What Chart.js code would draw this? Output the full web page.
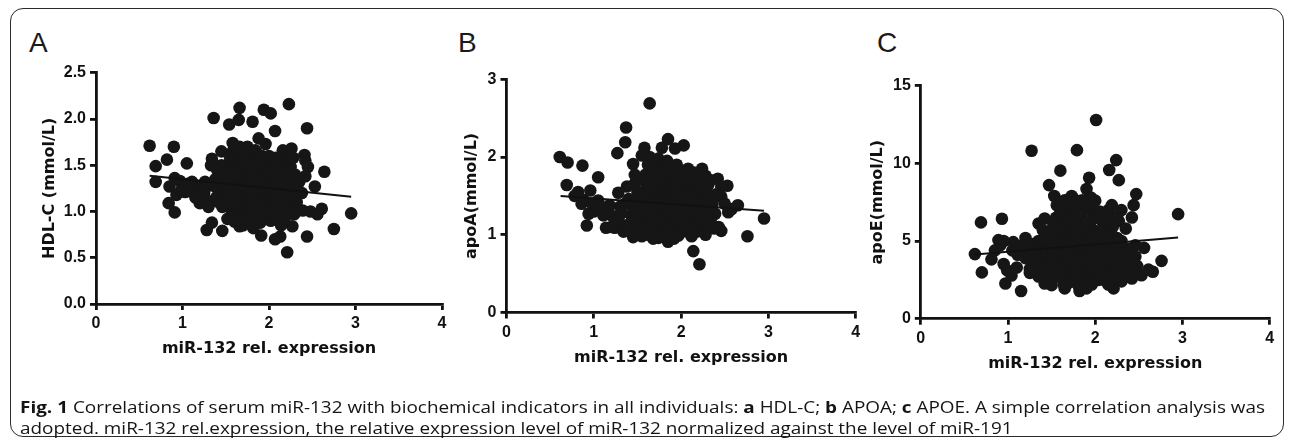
<!DOCTYPE html>
<html>
<head>
<meta charset="utf-8">
<script src="https://cdn.jsdelivr.net/npm/chart.js@4.4.0/dist/chart.umd.min.js"></script>
<style>
  html, body { margin: 0; padding: 0; background: #fff; }
  #page { position: relative; width: 1290px; height: 442px; overflow: hidden; background: #fff; }
  .frame { position: absolute; left: 10px; top: 8px; width: 1274px; height: 429px; border: 1.6px solid #2b2b2b; border-radius: 13px; box-sizing: border-box; }
  .layer { position: absolute; left: 0; top: 0; width: 1290px; height: 442px; }
  .letter { position: absolute; font-family: "Liberation Sans", Arial, sans-serif; font-size: 28px; line-height: 28px; color: #1a1a1a; }
  .cap { position: absolute; left: 20px; font-family: "Open Sans", sans-serif; font-size: 16.5px; line-height: 20px; color: #141414; white-space: nowrap; transform-origin: 0 0; }
  .cap b { font-weight: 700; }
</style>
</head>
<body>
<div id="page">
  <div class="frame"></div>
  <div class="letter" style="left:29px; top:29px;">A</div>
  <div class="letter" style="left:458px; top:29px;">B</div>
  <div class="letter" style="left:877px; top:29px;">C</div>
  <div class="layer"><canvas id="chartA"></canvas></div>
  <div class="layer"><canvas id="chartB"></canvas></div>
  <div class="layer"><canvas id="chartC"></canvas></div>
  <div class="cap" id="cap1" style="top:397px;"><b>Fig. 1</b> Correlations of serum miR-132 with biochemical indicators in all individuals: <b>a</b> HDL-C; <b>b</b> APOA; <b>c</b> APOE. A simple correlation analysis was</div>
  <div class="cap" id="cap2" style="top:418px;">adopted. miR-132 rel.expression, the relative expression level of miR-132 normalized against the level of miR-191</div>
</div>
<script>
var xTitle = 'miR-132 rel. expression';
var xTicks = [0, 1, 2, 3, 4];

// painel A: HDL-C
var hdlPoints = [
  [0.62,1.71],[0.90,1.70],[0.82,1.56],[0.69,1.49],[1.05,1.52],[0.69,1.32],[1.36,2.01],[1.66,2.12],[1.65,1.99],[1.54,1.94],
  [1.81,1.97],[1.94,2.10],[2.02,2.06],[2.23,2.16],[2.07,1.87],[2.44,1.90],[1.88,1.79],[1.96,1.73],[1.58,1.74],[2.26,1.68],
  [2.41,1.61],[2.42,1.55],[2.45,1.48],[2.19,1.56],[2.64,1.43],[2.53,1.27],[2.95,0.98],[2.75,0.81],[2.61,1.03],[2.56,0.97],
  [2.48,1.00],[2.39,1.01],[2.29,0.97],[2.44,0.73],[2.21,0.56],[2.27,0.84],[2.13,0.73],[2.07,0.70],[1.91,0.74],[1.46,0.79],
  [1.28,0.80],[1.34,0.88],[0.91,0.99],[0.84,1.09],[0.85,1.27],[0.93,1.18],[1.03,1.21],[1.14,1.21],[1.11,1.32],[0.91,1.36],
  [1.20,1.09],[1.30,1.11],[1.26,1.32],[1.34,1.57],[1.33,1.50],[1.45,1.65],[1.43,1.40],[1.49,1.18],[1.39,1.15],[1.57,1.00],
  [1.60,0.89],[1.66,0.84],[1.76,1.65],[1.86,1.63],[1.72,1.58],[1.99,1.50],[2.11,1.43],[2.20,1.38],[2.30,1.40],[2.35,1.32],
  [2.26,1.27],[2.33,1.21],[2.22,1.14],[2.14,1.09],[2.20,1.03],[2.07,0.96],[1.99,0.93],[2.14,0.85],[1.84,0.89],[1.72,0.96],
  [1.95,1.07],[1.80,1.18],[1.68,1.32],[1.60,1.43],[1.53,1.28],[1.87,1.36],[2.03,1.28],[1.76,1.43],[1.91,1.21],[1.64,1.11],
  [1.84,1.03],[1.78,1.11],[1.62,1.55],[1.70,1.50],[1.78,1.52],[1.85,1.48],[1.92,1.42],[2.00,1.38],[2.06,1.34],[1.65,1.25],
  [1.72,1.22],[1.80,1.28],[1.88,1.25],[1.95,1.30],[2.02,1.18],[2.10,1.20],[2.16,1.26],[1.58,1.18],[1.66,1.05],[1.74,1.08],
  [1.82,1.12],[1.90,1.14],[1.98,1.12],[2.05,1.06],[1.62,0.98],[1.70,0.92],[1.78,0.98],[1.86,0.95],[1.94,0.98],[2.02,0.90],
  [1.52,1.50],[1.48,1.35],[1.56,1.38],[1.64,1.40],[1.72,1.36],[1.80,1.40],[1.88,1.46],[1.96,1.55],[2.04,1.48],[2.12,1.52],
  [2.18,1.45],[2.25,1.48],[2.28,1.58],[2.32,1.10],[2.24,1.00],[1.75,1.70],[1.82,1.58],[1.68,1.62],[1.55,1.58],[1.45,1.50],
  [1.40,1.25],[1.46,1.05],[1.52,0.92],[1.50,1.10],[1.35,1.28],[1.20,1.25],[1.00,1.28],[0.97,1.33],[1.08,1.22],[1.15,1.15],
  [1.25,1.20],[1.30,1.05],[1.58,1.30],[1.76,1.20],[1.84,1.30],[1.92,1.35],[1.70,1.15],[2.00,1.22],[2.08,1.12],[1.62,1.22],
  [1.74,1.00],[1.90,0.88],[1.98,1.00],[2.10,1.00],[1.82,0.82],[1.70,0.85],[2.28,1.30],[2.38,1.20],[2.42,1.38],[2.18,0.92],
  [1.58,0.95],[1.60,1.48],[1.66,1.46],[1.74,1.56],[1.80,1.46],[1.86,1.55],[1.94,1.48],[2.02,1.42],[2.08,1.46],[2.14,1.38],
  [1.56,1.30],[1.62,1.34],[1.70,1.28],[1.76,1.32],[1.82,1.36],[1.90,1.30],[1.98,1.26],[2.06,1.24],[2.12,1.30],[2.18,1.20],
  [1.56,1.12],[1.62,1.16],[1.68,1.10],[1.76,1.14],[1.84,1.20],[1.92,1.08],[2.00,1.06],[2.08,1.06],[2.16,1.14],[1.64,1.02],
  [1.72,1.04],[1.80,1.05],[1.88,1.02],[1.96,0.94],[2.04,1.00],[1.68,0.90],[1.76,0.92],[1.84,0.96],[1.92,0.92],[1.50,1.42],
  [1.54,1.20],[1.46,1.28],[1.60,1.08],[1.58,1.65],[1.66,1.70],[1.84,1.66],[1.92,1.60],[2.00,1.60],[2.08,1.58],[2.16,1.66],
  [2.22,1.30],[2.26,1.18],[2.30,1.05],[1.40,1.45],[1.38,1.35],[1.42,1.10],[1.26,1.14],[1.16,1.28],[1.06,1.30],[0.98,1.22],
  [1.22,1.28]
];
var hdlFit = [[0.62,1.385],[2.95,1.16]];
var hdlTicks = [0, 0.5, 1.0, 1.5, 2.0, 2.5];

// painel B: apoA
var apoaPoints = [
  [1.64,2.69],[1.37,2.38],[1.36,2.19],[1.27,2.05],[1.85,2.23],[1.78,2.12],[1.93,2.11],[2.03,2.15],[1.58,2.12],[0.61,2.00],
  [0.70,1.93],[0.87,1.89],[1.05,1.74],[0.69,1.64],[0.82,1.55],[0.96,1.57],[0.86,1.40],[1.05,1.44],[1.11,1.25],[0.92,1.12],
  [0.94,1.27],[1.14,1.09],[1.28,1.54],[1.30,1.36],[1.24,1.09],[1.34,1.04],[1.45,0.97],[1.47,1.66],[1.45,1.91],[1.47,1.77],
  [1.55,2.02],[1.64,2.00],[1.74,1.98],[1.82,1.87],[1.97,1.83],[2.08,1.85],[2.24,1.85],[2.42,1.72],[2.53,1.63],[2.46,1.49],
  [2.27,1.57],[2.31,1.43],[2.65,1.38],[2.58,1.33],[2.54,1.29],[2.95,1.21],[2.76,0.98],[2.14,0.79],[2.21,0.62],[1.85,0.91],
  [1.74,0.96],[1.97,0.99],[2.43,1.10],[2.39,1.27],[2.29,1.08],[2.18,1.04],[2.07,1.04],[1.59,1.00],[1.66,1.16],[1.55,1.33],
  [1.63,1.50],[1.78,1.55],[1.89,1.67],[2.00,1.59],[2.12,1.50],[2.20,1.33],[2.08,1.25],[1.97,1.16],[1.85,1.25],[1.74,1.33],
  [1.70,1.67],[1.59,1.77],[1.93,1.42],[2.05,1.38],[1.82,1.08],[1.51,1.16],[1.43,1.25],[1.40,1.46],[2.24,1.20],[2.31,1.64],
  [2.12,1.72],[2.00,1.77],[1.70,1.80],[1.66,1.38],[1.85,1.46],[2.27,1.29],[1.20,1.10],[1.36,1.12],[1.60,1.60],[1.68,1.55],
  [1.76,1.45],[1.84,1.38],[1.92,1.30],[2.00,1.22],[2.08,1.15],[1.62,1.25],[1.70,1.20],[1.78,1.28],[1.86,1.18],[1.94,1.10],
  [2.02,1.30],[2.10,1.40],[2.16,1.60],[1.52,1.42],[1.58,1.08],[1.66,1.08],[1.74,1.12],[1.82,1.00],[1.90,1.05],[1.98,1.45],
  [2.06,1.52],[2.14,1.28],[2.22,1.45],[1.62,1.90],[1.70,1.88],[1.80,1.72],[1.88,1.78],[1.96,1.65],[2.04,1.70],[2.12,1.62],
  [2.20,1.70],[1.50,1.55],[1.45,1.35],[1.48,1.10],[1.56,1.22],[1.64,1.45],[1.72,1.40],[1.80,1.62],[1.88,1.55],[1.96,1.52],
  [2.04,1.45],[2.12,1.18],[2.20,1.10],[2.26,1.36],[2.36,1.40],[2.40,1.52],[2.46,1.62],[2.34,1.70],[1.38,1.62],[1.32,1.28],
  [1.25,1.20],[1.18,1.38],[1.00,1.30],[0.88,1.45],[0.78,1.50],[1.40,1.05],[1.55,0.98],[1.68,0.95],[1.78,1.05],[1.92,0.95],
  [2.00,1.05],[2.12,0.98],[2.28,1.00],[2.50,1.40],[2.46,1.05],[1.58,1.70],[1.84,1.95],[1.95,1.90],[2.15,1.80],[2.28,1.76],
  [1.54,1.50],[1.60,1.40],[1.66,1.30],[1.72,1.50],[1.78,1.40],[1.84,1.30],[1.90,1.45],[1.96,1.35],[2.02,1.20],[2.08,1.32],
  [2.14,1.45],[2.20,1.22],[1.56,1.18],[1.62,1.12],[1.68,1.22],[1.74,1.22],[1.80,1.15],[1.86,1.08],[1.92,1.18],[1.98,1.25],
  [2.04,1.12],[2.10,1.08],[2.16,1.15],[1.60,1.02],[1.70,1.05],[1.76,0.98],[1.86,0.98],[1.96,1.02],[2.06,1.10],[1.64,1.62],
  [1.72,1.62],[1.78,1.70],[1.86,1.65],[1.92,1.58],[2.00,1.52],[2.06,1.62],[2.12,1.55],[2.18,1.52],[2.24,1.58],[1.66,1.75],
  [1.76,1.80],[1.84,1.82],[1.92,1.72],[2.02,1.80],[2.10,1.68],[1.58,1.35],[1.50,1.28],[1.46,1.20],[1.42,1.15],[1.52,1.05],
  [2.28,1.15],[2.34,1.20],[2.38,1.08],[2.32,1.50],[2.26,1.25],[1.36,1.40],[1.28,1.20],[1.20,1.25],[1.10,1.35],[0.98,1.40]
];
var apoaFit = [[0.62,1.50],[2.95,1.31]];
var apoaTicks = [0, 1, 2, 3];

// painel C: apoE
var apoePoints = [
  [2.01,12.79],[1.27,10.81],[1.79,10.85],[2.24,10.21],[2.16,9.57],[2.27,8.92],[1.60,9.53],[1.93,9.07],[1.47,8.60],[1.90,8.35],
  [2.47,8.02],[1.53,7.90],[1.73,7.90],[2.44,7.31],[2.95,6.73],[2.42,6.52],[0.69,6.20],[0.93,6.43],[2.27,6.28],[0.62,4.16],
  [0.81,3.82],[0.70,2.98],[0.97,2.27],[1.15,1.78],[0.89,5.06],[0.91,4.73],[1.06,4.93],[1.20,5.20],[1.28,4.80],[1.11,4.12],
  [0.95,3.52],[1.04,2.78],[0.99,3.12],[1.33,3.45],[1.25,2.95],[1.35,2.72],[1.42,2.27],[1.50,2.16],[1.65,1.95],[1.82,1.78],
  [1.90,1.95],[2.21,1.95],[2.11,2.48],[2.30,2.80],[2.42,2.59],[2.53,2.80],[2.61,3.16],[2.66,3.02],[2.76,3.72],[2.56,4.56],
  [2.46,4.73],[2.42,4.00],[2.27,4.67],[2.19,4.00],[1.35,6.13],[1.42,6.45],[1.62,6.99],[1.65,7.63],[1.77,7.20],[1.85,7.63],
  [1.96,6.99],[2.07,6.35],[2.15,6.99],[2.19,7.31],[2.30,6.99],[1.50,5.70],[1.65,6.13],[1.85,6.35],[1.98,5.70],[2.15,5.49],
  [1.50,4.85],[1.62,4.42],[1.77,4.85],[1.92,4.42],[2.04,5.06],[2.11,4.00],[1.42,4.20],[1.58,3.56],[1.73,3.35],[1.88,3.77],
  [2.04,3.35],[2.19,3.35],[1.96,2.92],[1.77,2.72],[1.62,2.72],[1.69,2.30],[2.04,2.50],[1.81,5.28],[1.65,4.00],[1.85,4.00],
  [2.34,3.56],[2.46,4.00],[1.39,4.00],[1.27,4.42],[1.55,6.50],[1.62,6.20],[1.70,6.60],[1.78,6.00],[1.86,5.80],[1.94,6.20],
  [2.02,6.50],[2.10,6.00],[2.20,5.90],[2.25,5.20],[1.58,5.30],[1.66,5.60],[1.74,5.50],[1.82,5.00],[1.90,5.40],[1.98,4.80],
  [2.06,4.60],[2.14,4.80],[1.56,4.80],[1.64,4.60],[1.72,4.20],[1.80,4.50],[1.88,4.20],[1.96,4.10],[2.04,3.90],[2.12,3.60],
  [2.22,3.20],[1.62,3.80],[1.70,3.60],[1.78,3.90],[1.86,3.40],[1.94,3.60],[2.02,3.10],[2.10,3.00],[2.28,3.00],[1.60,3.20],
  [1.68,3.00],[1.76,3.20],[1.84,3.00],[1.92,3.20],[2.00,2.80],[2.08,2.70],[1.50,3.80],[1.45,5.30],[1.40,5.70],[1.35,5.00],
  [1.30,3.80],[1.45,3.00],[1.52,2.60],[1.72,2.50],[1.86,2.40],[1.96,2.20],[2.15,2.20],[2.35,3.00],[2.38,4.50],[2.30,5.00],
  [2.25,6.60],[2.35,5.80],[1.65,7.00],[1.70,7.40],[1.88,7.00],[2.00,7.60],[2.05,6.90],[1.95,7.80],[1.82,6.80],[1.60,6.80],
  [1.15,4.70],[1.05,4.40],[0.95,5.00],[0.85,4.40],[1.20,3.90],[1.10,3.30],[2.48,3.40],[2.40,2.70],[1.58,5.90],[1.66,5.20],
  [1.72,5.90],[1.80,5.60],[1.88,5.00],[1.96,5.30],[2.04,5.60],[2.12,5.30],[2.20,5.00],[1.60,4.40],[1.68,4.90],[1.76,4.60],
  [1.84,4.70],[1.92,4.80],[2.00,4.40],[2.08,4.20],[2.16,4.30],[2.24,4.40],[1.62,3.40],[1.70,4.00],[1.78,3.60],[1.86,3.80],
  [1.94,3.90],[2.02,3.60],[2.10,3.40],[2.18,3.80],[2.26,3.60],[1.58,2.90],[1.66,2.60],[1.74,2.90],[1.82,2.60],[1.90,2.70],
  [1.98,3.00],[2.06,2.90],[2.14,2.70],[1.64,2.20],[1.80,2.20],[1.92,2.40],[1.52,4.20],[1.48,3.40],[1.54,5.00],[1.44,4.60],
  [1.38,4.40],[1.40,3.40],[1.36,2.90],[1.56,7.30],[1.62,7.50],[1.78,7.60],[1.90,7.30],[1.98,6.60],[2.10,6.60],[2.18,6.20],
  [1.74,6.30],[1.66,6.40],[1.52,6.10],[2.32,4.20],[2.36,3.60],[2.44,3.10],[2.30,2.40],[2.22,2.60],[1.25,3.20],[1.20,4.40],
  [1.30,4.20]
];
var apoeFit = [[0.62,4.13],[2.95,5.22]];
var apoeTicks = [0, 5, 10, 15];

var ink = '#111111';
var tickFont = { family: 'Liberation Sans', weight: 'bold', size: 16 };
var titleFont = { family: 'DejaVu Sans', weight: 'bold', size: 16 };

function toXY(list) {
    return list.map(function(p) { return { x: p[0], y: p[1] }; });
}

function desenharPainel(id, pontos, reta, yTicks, yTitle, decimais, box) {
    var padLeft = box.titleX - 9.6;
    var xHeight = 54.5;
    new Chart(document.getElementById(id), {
        type: 'scatter',
        data: {
            datasets: [{
                data: toXY(reta),
                showLine: true,
                borderColor: ink,
                borderWidth: 2,
                pointRadius: 0
            }, {
                data: toXY(pontos),
                backgroundColor: '#161616',
                pointRadius: 6.3,
                pointBorderWidth: 0
            }]
        },
        options: {
            responsive: true,
            maintainAspectRatio: false,
            animation: false,
            events: [],
            layout: {
                padding: { left: padLeft, top: box.top, right: 1290 - box.right, bottom: 442 - box.bottom - xHeight }
            },
            plugins: { legend: { display: false }, tooltip: { enabled: false } },
            scales: {
                x: {
                    type: 'linear',
                    min: xTicks[0],
                    max: xTicks[xTicks.length - 1],
                    afterBuildTicks: function(s) { s.ticks = xTicks.map(function(v) { return { value: v }; }); },
                    ticks: { font: tickFont, color: ink, padding: 4, maxRotation: 0 },
                    grid: { drawOnChartArea: false, drawTicks: true, tickLength: 6, lineWidth: 2.8, color: ink },
                    border: { display: true, width: 2.8, color: ink },
                    title: { display: true, text: xTitle, font: titleFont, color: ink, padding: { top: 0, bottom: 0 } },
                    afterFit: function(s) { s.height = xHeight; }
                },
                y: {
                    type: 'linear',
                    min: yTicks[0],
                    max: yTicks[yTicks.length - 1],
                    afterBuildTicks: function(s) { s.ticks = yTicks.map(function(v) { return { value: v }; }); },
                    ticks: {
                        font: tickFont, color: ink, padding: 4,
                        callback: function(v) { return Number(v).toFixed(decimais); }
                    },
                    grid: { drawOnChartArea: false, drawTicks: true, tickLength: 6, lineWidth: 2.8, color: ink },
                    border: { display: true, width: 2.8, color: ink },
                    title: { display: true, text: yTitle, font: titleFont, color: ink, padding: { top: 0, bottom: 0 } },
                    afterFit: function(s) { s.width = box.left - padLeft; }
                }
            }
        }
    });
}

desenharPainel('chartA', hdlPoints, hdlFit, hdlTicks, 'HDL-C (mmol/L)', 1,
    { left: 96, right: 442, top: 72.7, bottom: 304, titleX: 50 });
desenharPainel('chartB', apoaPoints, apoaFit, apoaTicks, 'apoA(mmol/L)', 0,
    { left: 506.5, right: 855.7, top: 79.3, bottom: 312.5, titleX: 472 });
desenharPainel('chartC', apoePoints, apoeFit, apoeTicks, 'apoE(mmol/L)', 0,
    { left: 920.8, right: 1269.7, top: 85.7, bottom: 318.7, titleX: 878 });

// legenda ajustada à largura da linha original
var cap1 = document.getElementById('cap1');
var cap2 = document.getElementById('cap2');
var escala = 1245 / cap1.getBoundingClientRect().width;
cap1.style.transform = 'scaleX(' + escala + ')';
cap2.style.transform = 'scaleX(' + escala + ')';
</script>
</body>
</html>
